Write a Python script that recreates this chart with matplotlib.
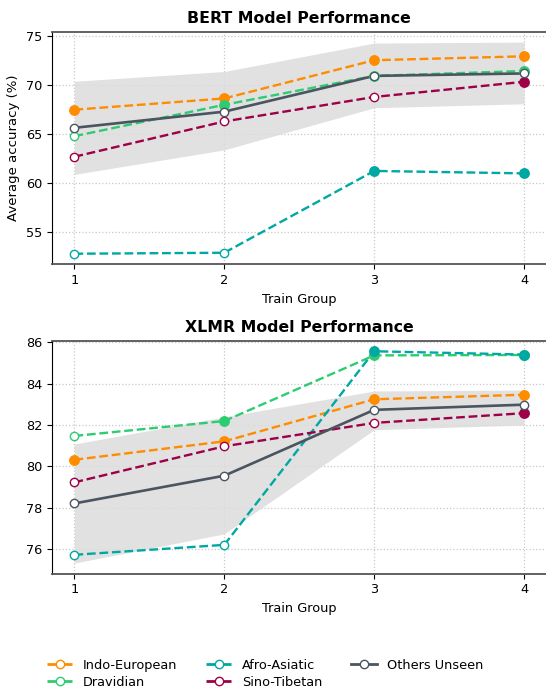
import matplotlib
matplotlib.use("Agg")
import matplotlib.pyplot as plt
from matplotlib.lines import Line2D

# Train groups
groups = [1, 2, 3, 4]

# Language families and their colours
families = ['Indo-European', 'Dravidian', 'Afro-Asiatic', 'Sino-Tibetan', 'Others Unseen']
colors = ['#FF8C00', '#2ECC71', '#00A8A3', '#9E0048', '#4A5560']

# Whether the family was seen at each train group (filled marker) or not (open marker)
seen = {
    'Indo-European': [True, True, True, True],
    'Dravidian': [False, True, True, True],
    'Afro-Asiatic': [False, False, True, True],
    'Sino-Tibetan': [False, False, False, True],
    'Others Unseen': [False, False, False, False],
}

# BERT average accuracy (%)
bert = {
    'Indo-European': [67.5, 68.65, 72.55, 72.95],
    'Dravidian': [64.8, 68.0, 70.95, 71.45],
    'Afro-Asiatic': [52.8, 52.9, 61.25, 61.0],
    'Sino-Tibetan': [62.7, 66.3, 68.8, 70.35],
    'Others Unseen': [65.65, 67.3, 70.95, 71.2],
}
bert_band_low = [60.9, 63.4, 67.7, 68.1]
bert_band_high = [70.4, 71.4, 74.3, 74.4]

# XLMR average accuracy (%)
xlmr = {
    'Indo-European': [80.32, 81.21, 83.24, 83.46],
    'Dravidian': [81.47, 82.19, 85.36, 85.38],
    'Afro-Asiatic': [75.73, 76.21, 85.56, 85.4],
    'Sino-Tibetan': [79.23, 80.97, 82.1, 82.57],
    'Others Unseen': [78.21, 79.55, 82.73, 82.98],
}
xlmr_band_low = [75.33, 76.74, 81.77, 82.0]
xlmr_band_high = [81.08, 82.39, 83.64, 83.69]

fig = plt.figure(figsize=(5.46, 6.91), dpi=100)
ax1 = fig.add_axes([0.0952, 0.6175, 0.9057, 0.3369])
ax2 = fig.add_axes([0.0952, 0.1698, 0.9057, 0.3372])


def draw(ax, data, low, high, title):
    ax.fill_between(groups, low, high, color='#dcdcdc', alpha=0.85, lw=0, zorder=1)
    for fam, col in zip(families, colors):
        ls = '-' if fam == 'Others Unseen' else '--'
        lw = 1.9 if fam == 'Others Unseen' else 1.7
        ax.plot(groups, data[fam], ls, color=col, lw=lw, zorder=3)
        for g, v, s in zip(groups, data[fam], seen[fam]):
            ax.plot(g, v, 'o', ms=6.8 if s else 6.0, mfc=col if s else 'white',
                    mec=col, mew=1.0, zorder=4)
    ax.set_xticks(groups)
    ax.set_xlabel('Train Group', fontsize=9.3)
    ax.set_title(title, fontsize=11.3, fontweight='bold', pad=6)
    ax.grid(True, linestyle=':', color='#c8c8c8', linewidth=0.9)
    ax.set_axisbelow(True)
    ax.tick_params(labelsize=9.3)
    ax.spines['left'].set_color('black')
    for sp in ['top', 'bottom']:
        ax.spines[sp].set_color('#555555')
        ax.spines[sp].set_linewidth(1.3)
    ax.spines['right'].set_visible(False)


draw(ax1, bert, bert_band_low, bert_band_high, 'BERT Model Performance')
draw(ax2, xlmr, xlmr_band_low, xlmr_band_high, 'XLMR Model Performance')
ax1.set_yticks([55, 60, 65, 70, 75])
ax2.set_yticks([76, 78, 80, 82, 84, 86])
ax1.set_ylabel('Average accuracy (%)', fontsize=9.5)

handles = []
for fam, col in zip(families, colors):
    ls = '-' if fam == 'Others Unseen' else '--'
    handles.append(Line2D([], [], color=col, ls=ls, lw=2, marker='o', ms=6,
                          mfc='white', mec=col))
fig.legend(handles, families, loc='center', bbox_to_anchor=(0.486, 0.025), ncol=3,
           frameon=False, fontsize=9.3, columnspacing=2.2, labelspacing=0.3)

fig.savefig('out.png', dpi=100)
